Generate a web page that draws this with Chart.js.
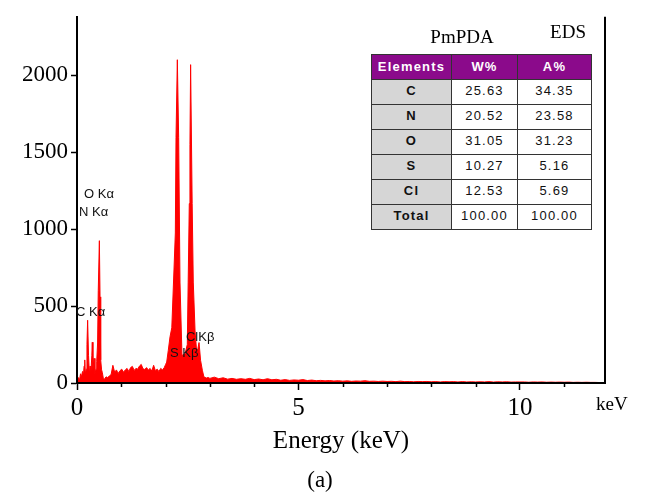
<!DOCTYPE html>
<html>
<head>
<meta charset="utf-8">
<script src="https://cdn.jsdelivr.net/npm/chart.js@4.4.0/dist/chart.umd.min.js"></script>
<style>
  html, body { margin: 0; padding: 0; background: #fff; }
  #wrap { position: relative; width: 645px; height: 494px; }
  #eds-table {
    position: absolute; left: 371px; top: 54px;
    display: grid; grid-template-columns: 79px 65px 73px; grid-template-rows: 24px repeat(6, 24px);
    gap: 1px; padding: 1px; background: #333;
    font-family: 'Liberation Sans', Arial, sans-serif; font-size: 13px; letter-spacing: 1.2px; color: #111;
  }
  #eds-table div { background: #fff; text-align: center; line-height: 15px; padding-top: 3px; box-sizing: border-box; }
  #eds-table .hd { background: #8b0a8b; color: #fff; font-weight: bold; padding-top: 4px; }
  #eds-table .el { background: #d6d6d6; font-weight: bold; }
</style>
</head>
<body>
<div id="wrap">
  <canvas id="chart"></canvas>
  <div id="eds-table"></div>
</div>
<script>
// spectrum (keV, counts)
const energy = [
  0.00, 0.01, 0.035, 0.055, 0.08, 0.10, 0.125, 0.145, 0.16, 0.175, 0.19, 0.21, 0.225, 0.24, 0.26, 0.28,
  0.295, 0.315, 0.335, 0.345, 0.36, 0.385, 0.405, 0.43, 0.445, 0.465, 0.48, 0.505, 0.52, 0.535, 0.555,
  0.57, 0.595, 0.62, 0.655, 0.69,
  0.73, 0.77, 0.81, 0.85, 0.89, 0.93, 0.97, 1.01, 1.05, 1.09, 1.13, 1.17, 1.21, 1.25, 1.29, 1.33, 1.37,
  1.41, 1.45, 1.49, 1.53, 1.57, 1.61, 1.65, 1.69, 1.73, 1.77, 1.81, 1.85, 1.89, 1.93, 1.97, 2.00,
  2.025, 2.06, 2.10, 2.14, 2.19, 2.22, 2.235, 2.265, 2.295, 2.325, 2.37, 2.40, 2.44, 2.49, 2.51, 2.535,
  2.55, 2.565, 2.60, 2.625, 2.665, 2.70, 2.73, 2.755, 2.79, 2.83, 2.865, 2.92, 2.96,
  3.0, 3.1, 3.2, 3.3, 3.4, 3.5, 3.6, 3.7, 3.8, 3.9, 4.0, 4.1, 4.2, 4.3, 4.4, 4.5, 4.6, 4.7, 4.8, 4.9,
  5.0, 5.1, 5.2, 5.3, 5.4, 5.5, 5.6, 5.7, 5.8, 5.9, 6.0, 6.1, 6.2, 6.3, 6.4, 6.5, 6.6, 6.7, 6.8, 6.9,
  7.0, 7.1, 7.2, 7.3, 7.4, 7.5, 7.6, 7.7, 7.8, 7.9, 8.0, 8.1, 8.2, 8.3, 8.4, 8.5, 8.6, 8.7, 8.8, 8.9,
  9.0, 9.1, 9.2, 9.3, 9.4, 9.5, 9.6, 9.7, 9.8, 9.9, 10.0, 10.1, 10.2, 10.3, 10.4, 10.5, 10.6, 10.7, 10.8, 10.9,
  11.0, 11.1, 11.2, 11.3, 11.4, 11.5, 11.6, 11.7, 11.8, 11.9
];
const counts = [
  0, 0, 35, 15, 60, 40, 75, 50, 110, 150, 60, 90, 250, 408, 180, 60,
  110, 70, 180, 265, 90, 160, 60, 90, 140, 260, 600, 925, 560, 150, 85,
  70, 30, 25, 40, 35,
  45, 55, 115, 70, 85, 62, 80, 90, 70, 85, 95, 75, 100, 108, 82, 95, 90,
  110, 121, 92, 88, 100, 84, 95, 78, 115, 80, 90, 75, 95, 85, 100, 120,
  136, 210, 300, 359, 741, 975, 1594, 2101, 1594, 656, 178, 185, 190, 250, 656, 1166,
  1549, 2069, 1166, 656, 338, 210, 225, 263, 147, 83, 40, 32, 36,
  30, 38, 28, 34, 25, 30, 24, 28, 24, 30, 22, 26, 21, 28, 21, 24, 18, 22, 17, 20,
  18, 22, 16, 19, 15, 17, 14, 16, 13, 15, 12, 14, 11, 13, 12, 15, 11, 12, 10, 12,
  10, 11, 9, 12, 9, 10, 8, 10, 9, 10, 8, 9, 7, 9, 8, 9, 7, 9, 7, 8,
  7, 8, 7, 9, 6, 8, 7, 8, 6, 7, 7, 7, 5, 7, 6, 7, 5, 6, 5, 6,
  5, 6, 4, 5, 4, 5, 4, 4, 3, 3
];
const xTicks = [0, 5, 10];
const xMinorTicks = [1, 2, 3, 4, 6, 7, 8, 9, 11];
const yTicks = [0, 500, 1000, 1500, 2000];

const peakLabels = [
  { text: 'O Kα', e: 0.16, c: 1225 },
  { text: 'N Kα', e: 0.045, c: 1110 },
  { text: 'C Kα', e: -0.02, c: 459 },
  { text: 'S Kβ', e: 2.10, c: 191 },
  { text: 'ClKβ', e: 2.46, c: 293 }
];

const tableHead = ['Elements', 'W%', 'A%'];
const elements = ['C', 'N', 'O', 'S', 'Cl', 'Total'];
const wPct = ['25.63', '20.52', '31.05', '10.27', '12.53', '100.00'];
const aPct = ['34.35', '23.58', '31.23', '5.16', '5.69', '100.00'];

// table
const tbl = document.getElementById('eds-table');
tbl.innerHTML = tableHead.map(h => `<div class="hd">${h}</div>`).join('') +
  elements.map((el, i) => `<div class="el">${el}</div><div>${wPct[i]}</div><div>${aPct[i]}</div>`).join('');

const serif = "'Liberation Serif', 'Times New Roman', serif";

const overlay = {
  id: 'overlay',
  afterDatasetsDraw(chart) {
    const { ctx, chartArea: a, scales: { x, y } } = chart;
    ctx.save();
    ctx.strokeStyle = '#000';
    ctx.lineWidth = 2;
    ctx.beginPath();
    ctx.moveTo(a.left, a.top); ctx.lineTo(a.left, a.bottom); ctx.lineTo(a.right, a.bottom); ctx.lineTo(a.right, a.top);
    ctx.stroke();

    ctx.lineWidth = 1.5;
    xMinorTicks.forEach(v => {
      const px = Math.round(x.getPixelForValue(v)) + 0.5;
      ctx.beginPath(); ctx.moveTo(px, a.bottom); ctx.lineTo(px, a.bottom + 4); ctx.stroke();
    });

    ctx.fillStyle = '#111';
    ctx.font = "13px 'Liberation Sans', Arial, sans-serif";
    ctx.textBaseline = 'middle';
    ctx.textAlign = 'left';
    peakLabels.forEach(p => ctx.fillText(p.text, x.getPixelForValue(p.e), y.getPixelForValue(p.c)));

    ctx.fillStyle = '#000';
    ctx.textBaseline = 'alphabetic';
    ctx.font = '19px ' + serif;
    ctx.textAlign = 'center';
    ctx.fillText('PmPDA', 462, 43);
    ctx.fillText('EDS', 568, 38);
    ctx.textAlign = 'left';
    ctx.fillText('keV', 596, 410);
    ctx.textAlign = 'center';
    ctx.font = '25px ' + serif;
    ctx.fillText('Energy (keV)', (a.left + a.right) / 2, 448);
    ctx.font = '23px ' + serif;
    ctx.fillText('(a)', 320, 487);
    ctx.restore();
  }
};

new Chart(document.getElementById('chart'), {
  type: 'line',
  data: {
    datasets: [{
      data: energy.map((e, i) => ({ x: e, y: counts[i] })),
      borderColor: '#ff0000',
      backgroundColor: '#ff0000',
      borderWidth: 1,
      pointRadius: 0,
      tension: 0,
      fill: 'origin'
    }]
  },
  options: {
    responsive: true, maintainAspectRatio: false, animation: false,
    layout: { padding: { left: 0, right: 40, top: 10, bottom: 0 } },
    plugins: { legend: { display: false }, tooltip: { enabled: false } },
    scales: {
      x: {
        type: 'linear', min: 0, max: 11.92,
        afterFit: s => { s.height = 111; },
        afterBuildTicks: s => { s.ticks = xTicks.map(v => ({ value: v })); },
        grid: { display: true, drawOnChartArea: false, drawTicks: true, tickLength: 7, color: '#000', tickWidth: 1.5 },
        border: { display: true, color: '#000', width: 2 },
        ticks: { color: '#000', font: { family: serif, size: 25 }, padding: 3, maxRotation: 0, callback: v => String(v) }
      },
      y: {
        min: 0, max: 2380,
        afterFit: s => { s.width = 77; },
        afterBuildTicks: s => { s.ticks = yTicks.map(v => ({ value: v })); },
        grid: { display: true, drawOnChartArea: false, drawTicks: true, tickLength: 6, color: '#000', tickWidth: 1.5 },
        border: { display: true, color: '#000', width: 2 },
        ticks: { color: '#000', font: { family: serif, size: 23 }, padding: 3, callback: v => String(v) }
      }
    }
  },
  plugins: [overlay]
});
</script>
</body>
</html>
